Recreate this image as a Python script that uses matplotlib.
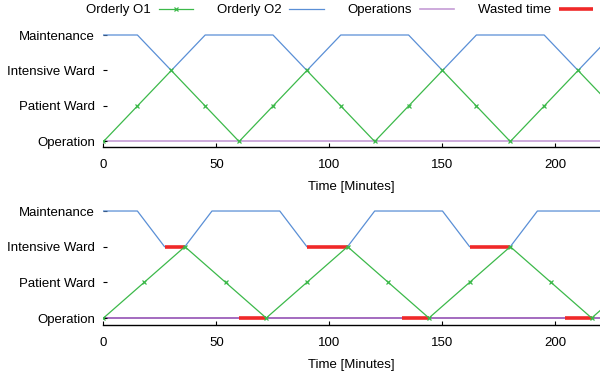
import matplotlib.pyplot as plt

plt.rcParams['font.family'] = ['Liberation Sans', 'DejaVu Sans']
plt.rcParams['font.size'] = 9.5

# niveis / tick labels
niveis = ['Operation', 'Patient Ward', 'Intensive Ward', 'Maintenance']
xticks = [0, 50, 100, 150, 200]

# painel de cima
cima_o1_t = [0, 15, 30, 45, 60, 75, 90, 105, 120, 135, 150, 165, 180, 195, 210, 225, 240]
cima_o1_y = [0, 1, 2, 1, 0, 1, 2, 1, 0, 1, 2, 1, 0, 1, 2, 1, 0]
cima_o2_t = [0, 15, 30, 45, 75, 90, 105, 135, 150, 165, 195, 210, 225, 255]
cima_o2_y = [3, 3, 2, 3, 3, 2, 3, 3, 2, 3, 3, 2, 3, 3]
cima_ops_t = [0, 240]
cima_ops_y = [0, 0]

# painel de baixo
baixo_o1_t = [0, 18, 36, 54, 72, 90, 108, 126, 144, 162, 180, 198, 216, 234, 252]
baixo_o1_y = [0, 1, 2, 1, 0, 1, 2, 1, 0, 1, 2, 1, 0, 1, 2]
baixo_o2_t = [0, 15, 27, 36, 48, 78, 90, 108, 120, 150, 162, 180, 192, 240]
baixo_o2_y = [3, 3, 2, 2, 3, 3, 2, 2, 3, 3, 2, 2, 3, 3]
baixo_ops_t = [0, 240]
baixo_ops_y = [0, 0]

# tempo perdido: inicio, fim, nivel
perdido_ini = [27, 60, 90, 132, 162, 204]
perdido_fim = [36, 72, 108, 144, 180, 216]
perdido_nivel = [2, 0, 2, 0, 2, 0]

verde = '#3cb94a'
azul = '#5a8fd6'
roxo_claro = '#c59cd6'
roxo = '#9452b4'
vermelho = '#f02828'

fig = plt.figure(figsize=(6, 3.73), dpi=100)
ax1 = fig.add_axes([0.1725, 0.6059, 0.8275, 0.3193])
ax2 = fig.add_axes([0.1725, 0.1287, 0.8275, 0.3247])


def estilo(ax, ymin):
    ax.set_xlim(0, 219.7)
    ax.set_ylim(ymin, 3.2)
    for s in ['top', 'right', 'left']:
        ax.spines[s].set_visible(False)
    ax.spines['bottom'].set_linewidth(1.0)
    ax.set_xticks(xticks)
    ax.set_yticks(range(len(niveis)))
    ax.set_yticklabels(niveis)
    ax.tick_params(axis='x', direction='in', length=3, width=0.8, pad=9)
    ax.tick_params(axis='y', direction='in', length=3, width=0.8, pad=6)
    ax.set_xlabel('Time [Minutes]', labelpad=7)


# Painel de cima
l1, = ax1.plot(cima_o1_t, cima_o1_y, color=verde, lw=0.9, marker='x', ms=3.5,
               mew=0.9, label='Orderly O1', zorder=3)
l2, = ax1.plot(cima_o2_t, cima_o2_y, color=azul, lw=0.9, label='Orderly O2', zorder=2)
l3, = ax1.plot(cima_ops_t, cima_ops_y, color=roxo_claro, lw=1.2, label='Operations', zorder=1)
estilo(ax1, -0.155)

# Painel de baixo
ax2.plot(baixo_ops_t, baixo_ops_y, color=roxo, lw=1.2, zorder=1)
ax2.plot(baixo_o2_t, baixo_o2_y, color=azul, lw=0.9, zorder=2)
for ini, fim, nv in zip(perdido_ini, perdido_fim, perdido_nivel):
    l4, = ax2.plot([ini, fim], [nv, nv], color=vermelho, lw=2.6, solid_capstyle='butt',
                   label='Wasted time', zorder=2.5)
ax2.plot(baixo_o1_t, baixo_o1_y, color=verde, lw=0.9, marker='x', ms=3.5, mew=0.9, zorder=3)
estilo(ax2, -0.196)

fig.legend(handles=[l1, l2, l3, l4], loc='center', bbox_to_anchor=(0.566, 0.973),
           ncol=4, frameon=False, markerfirst=False, handlelength=2.6,
           handletextpad=0.6, columnspacing=1.8, borderpad=0.1)

fig.savefig('out.png', dpi=100)
